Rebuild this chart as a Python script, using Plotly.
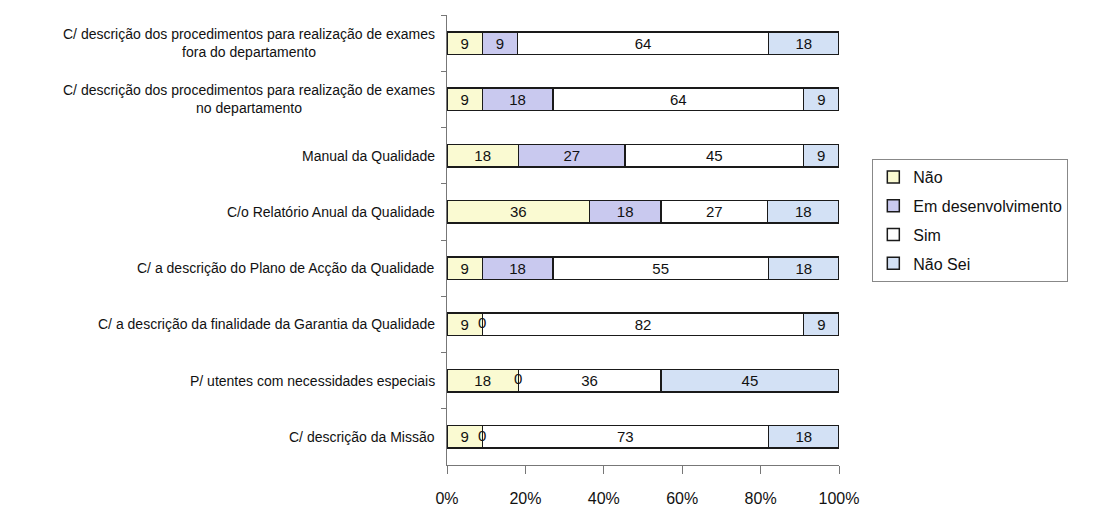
import plotly.graph_objects as go

categories = [
    "C/ descrição dos procedimentos para realização de exames<br>fora do departamento",
    "C/ descrição dos procedimentos para realização de exames<br>no departamento",
    "Manual da Qualidade",
    "C/o Relatório Anual da Qualidade",
    "C/ a descrição do Plano de Acção da Qualidade",
    "C/ a descrição da finalidade da Garantia da Qualidade",
    "P/ utentes com necessidades especiais",
    "C/ descrição da Missão",
]
nao = [9, 9, 18, 36, 9, 9, 18, 9]
em_desenvolvimento = [9, 18, 27, 18, 18, 0, 0, 0]
sim = [64, 64, 45, 27, 55, 82, 36, 73]
nao_sei = [18, 9, 9, 18, 18, 9, 45, 18]

series = [
    ("Não", nao, "#fafad2"),
    ("Em desenvolvimento", em_desenvolvimento, "#c9c9ef"),
    ("Sim", sim, "#ffffff"),
    ("Não Sei", nao_sei, "#d3e1f5"),
]

FONT = "Liberation Sans, Arial, sans-serif"
fig = go.Figure()
for i, (name, vals, color) in enumerate(series):
    fig.add_trace(go.Bar(
        y=categories, x=vals, name=name, orientation="h",
        marker=dict(color=color, line=dict(color="#1a1a1a", width=1.5)),
        text=[str(v) if v else "" for v in vals],
        textposition="inside", insidetextanchor="middle", textangle=0,
        constraintext="none",
        textfont=dict(family=FONT, size=15, color="#111"),
        legendgroup=str(i),
        hoverinfo="skip",
    ))

# "0" labels for empty "Em desenvolvimento" segments, placed at the boundary
zero_x, zero_y = [], []
for k, cat in enumerate(categories):
    if em_desenvolvimento[k] == 0:
        total = nao[k] + em_desenvolvimento[k] + sim[k] + nao_sei[k]
        zero_x.append(100.0 * nao[k] / total)
        zero_y.append(cat)
fig.add_trace(go.Scatter(
    x=zero_x, y=zero_y, mode="text", text=["0"] * len(zero_x),
    textposition="middle center", showlegend=False, hoverinfo="skip",
    textfont=dict(family=FONT, size=15, color="#111"),
))

for cat in categories:
    fig.add_annotation(
        x=0, xref="paper", y=cat, yref="y", text=cat,
        xanchor="right", yanchor="middle", align="center",
        xshift=-10, showarrow=False,
        font=dict(family=FONT, size=14, color="#111"),
    )

fig.update_layout(
    width=1107, height=510,
    margin=dict(l=447, r=268, t=15, b=45),
    barmode="stack", barnorm="percent", bargap=0.6,
    uniformtext=dict(minsize=15, mode="show"),
    paper_bgcolor="white", plot_bgcolor="white",
    font=dict(family=FONT, color="#111"),
    legend=dict(
        x=1.085, y=0.68, xanchor="left", yanchor="top",
        bordercolor="#888", borderwidth=1,
        font=dict(family=FONT, size=16, color="#111"),
        traceorder="grouped", tracegroupgap=5,
        itemwidth=30,
    ),
    xaxis=dict(
        range=[0, 100], tickvals=[0, 20, 40, 60, 80, 100],
        ticktext=["0%", "20%", "40%", "60%", "80%", "100%"],
        showgrid=False, zeroline=False, showline=True, linecolor="#777", linewidth=1,
        ticks="outside", ticklen=8, tickcolor="#777",
        tickfont=dict(family=FONT, size=16, color="#111"),
        ticklabelstandoff=11, automargin=False,
    ),
    yaxis=dict(
        categoryorder="array", categoryarray=categories, autorange="reversed",
        showticklabels=False, showgrid=False, zeroline=False,
        showline=True, linecolor="#777", linewidth=1,
        ticks="outside", ticklen=5, tickcolor="#777", tickson="boundaries",
        automargin=False,
    ),
)

fig.write_html("out.html")
